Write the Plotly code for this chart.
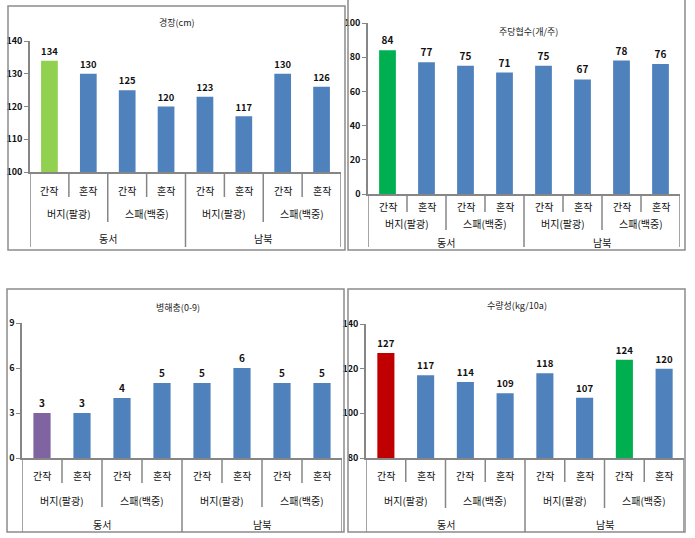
import plotly.graph_objects as go

W, H = 695, 538

regions = ["동서", "동서", "동서", "동서", "남북", "남북", "남북", "남북"]
varieties = ["버지(팔광)", "버지(팔광)", "스패(백중)", "스패(백중)",
             "버지(팔광)", "버지(팔광)", "스패(백중)", "스패(백중)"]
treatments = ["간작", "혼작", "간작", "혼작", "간작", "혼작", "간작", "혼작"]

stem_length = [134, 130, 125, 120, 123, 117, 130, 126]
pods_per_plant = [84, 77, 75, 71, 75, 67, 78, 76]
pest_score = [3, 3, 4, 5, 5, 6, 5, 5]
yield_kg = [127, 117, 114, 109, 118, 107, 124, 120]

titles = ["경장(cm)", "주당협수(개/주)", "병해충(0-9)", "수량성(kg/10a)"]

BLUE = "#4F81BD"
colors_tl = ["#92D050"] + [BLUE] * 7
colors_tr = ["#00B050"] + [BLUE] * 7
colors_bl = ["#8064A2"] + [BLUE] * 7
colors_br = ["#C00000"] + [BLUE] * 5 + ["#00B050", BLUE]

FONT = "Noto Sans CJK KR, Malgun Gothic, sans-serif"
AX = "#868686"

def X(px):
    return px / W

def Y(py):
    return 1 - py / H

cats = [f"{r}|{v}|{t}" for r, v, t in zip(regions, varieties, treatments)]

# panel specs (pixel layout)
panels = [
    dict(vals=stem_length, colors=colors_tl, title=titles[0], x0=30, x1=341, ybase=172, ytop=41,
         rng=[100, 140], dtick=10, rows=(190, 213, 238), ends=(197, 222, 247), tpos=(177, 22),
         box=(8, 6, 345, 250)),
    dict(vals=pods_per_plant, colors=colors_tr, title=titles[1], x0=368, x1=680, ybase=194, ytop=23,
         rng=[0, 100], dtick=20, rows=(207, 223, 243), ends=(212, 230, 247), tpos=(528, 32),
         box=(348, -2, 685, 250)),
    dict(vals=pest_score, colors=colors_bl, title=titles[2], x0=22, x1=342, ybase=458, ytop=323,
         rng=[0, 9], dtick=3, rows=(475, 500, 524), ends=(483, 507, 532), tpos=(178, 307),
         box=(7, 289, 344, 532)),
    dict(vals=yield_kg, colors=colors_br, title=titles[3], x0=366, x1=684, ybase=458, ytop=324,
         rng=[80, 140], dtick=20, rows=(475, 500, 524), ends=(482, 508, 532), tpos=(517, 305),
         box=(348, 289, 685, 532)),
]

fig = go.Figure()
shapes = []
annotations = []

def label(x, y, xref, text, size=10, color="#111"):
    return dict(x=x, y=y, xref=xref, yref="paper", text=text, showarrow=False,
                xanchor="center", yanchor="middle",
                font=dict(size=size, color=color, family=FONT))

for k, p in enumerate(panels):
    n = "" if k == 0 else str(k + 1)
    xa, ya = "x" + n, "y" + n
    fig.add_trace(go.Bar(
        x=cats, y=p["vals"], marker=dict(color=p["colors"], line=dict(width=0)),
        text=p["vals"], textposition="outside", cliponaxis=False,
        textfont=dict(size=10, color="#111", family=FONT, weight="bold"),
        xaxis=xa, yaxis=ya, showlegend=False, hoverinfo="skip",
    ))
    fig.update_layout(**{
        ("xaxis" + n): dict(domain=[X(p["x0"]), X(p["x1"])], anchor=ya, type="category",
                            range=[-0.5, len(cats) - 0.5], showticklabels=False, ticks="",
                            showline=True, linecolor=AX, linewidth=1.5, showgrid=False,
                            zeroline=False, fixedrange=True, automargin=False),
        ("yaxis" + n): dict(domain=[Y(p["ybase"]), Y(p["ytop"])], anchor=xa, range=p["rng"],
                            dtick=p["dtick"], showline=True, linecolor=AX, linewidth=1.5,
                            ticks="outside", ticklen=4, tickcolor=AX, tickwidth=1,
                            tickfont=dict(size=9, color="#111", family=FONT, weight="bold"),
                            showgrid=False, zeroline=False, fixedrange=True, automargin=False),
    })
    # panel border
    bx0, by0, bx1, by1 = p["box"]
    shapes.append(dict(type="rect", xref="paper", yref="paper", x0=X(bx0), x1=X(bx1),
                       y0=Y(by1), y1=Y(by0), line=dict(color="#8C8C8C", width=1.5)))
    # category divider lines
    for b in range(len(cats) + 1):
        if b % 4 == 0:
            end = p["ends"][2]
        elif b % 2 == 0:
            end = p["ends"][1]
        else:
            end = p["ends"][0]
        shapes.append(dict(type="line", xref=xa, yref="paper", x0=b - 0.5, x1=b - 0.5,
                           y0=Y(p["ybase"]), y1=Y(end), line=dict(color=AX, width=1.5)))
    # level 1 labels
    for i, t in enumerate(treatments):
        annotations.append(label(cats[i], Y(p["rows"][0]), xa, t))
    # level 2 labels
    for g in range(0, len(cats), 2):
        annotations.append(label(g + 0.5, Y(p["rows"][1]), xa, varieties[g]))
    # level 3 labels
    for g in range(0, len(cats), 4):
        annotations.append(label(g + 1.5, Y(p["rows"][2]), xa, regions[g]))
    # title
    annotations.append(label(X(p["tpos"][0]), Y(p["tpos"][1]), "paper", p["title"],
                             size=9, color="#222"))

fig.update_layout(
    width=W, height=H, margin=dict(l=0, r=0, t=0, b=0, autoexpand=False),
    paper_bgcolor="white", plot_bgcolor="white",
    bargap=0.57, shapes=shapes, annotations=annotations,
    font=dict(family=FONT),
)

fig.write_html("out.html", config={"displayModeBar": False},
               post_script="document.body.style.margin='0px';")
